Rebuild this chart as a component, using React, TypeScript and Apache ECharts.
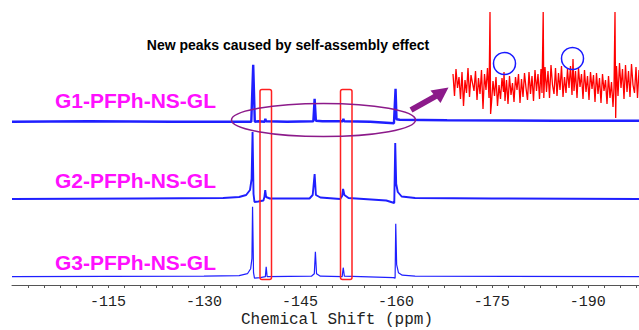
import React, { useEffect, useRef } from "react";
import * as echarts from "echarts";

// x-axis tick labels (ppm)
const tickLabels = [-115, -130, -145, -160, -175, -190];

// Spectra: [chemical shift (ppm), intensity above own baseline]
const g1Trace: [number, number][] = [
  [-100, 0], [-112, 0.5], [-125, 0], [-137.4, 0], [-137.7, 57], [-137.95, 0], [-138.5, 0.5],
  [-139.5, 0], [-139.6, 3], [-139.7, 0.5], [-143, 0], [-147.1, 0.5], [-147.3, 23], [-147.5, 1],
  [-148.5, 0.5], [-151.7, 0.5], [-151.8, 3], [-151.9, 0.5], [-156, 0], [-159.7, -1.5],
  [-159.95, 33], [-160.1, 2.5], [-160.6, 2], [-168, 1.5], [-185, 1], [-198, 1],
];
const g2Trace: [number, number][] = [
  [-100, 0], [-120, 0.5], [-133, 1], [-135.5, 2], [-136.6, 4], [-137.2, 9], [-137.45, 20],
  [-137.6, 67], [-137.75, 5], [-137.9, -3], [-138.5, -2.5], [-139.3, -1.5], [-139.45, 2],
  [-139.58, 9], [-139.72, 2], [-140.3, 0.5], [-146.5, 0.5], [-147.0, 4], [-147.3, 25],
  [-147.5, 4], [-148.2, 1.5], [-151.3, 0], [-151.6, 3], [-151.75, 10], [-151.95, 4],
  [-152.6, 1], [-158.5, -1.5], [-159.75, -4], [-159.9, 56], [-160.05, 15], [-160.3, 7],
  [-160.9, 2.5], [-163, 1], [-175, 0.5], [-198, 0],
];
const g3Trace: [number, number][] = [
  [-100, 0], [-130, 0.5], [-135.5, 1], [-136.8, 3], [-137.3, 8], [-137.5, 18], [-137.6, 70],
  [-137.75, 4], [-137.9, -1.5], [-138.8, -1], [-139.6, 0], [-139.73, 10], [-139.88, 0],
  [-146.8, 0.5], [-147.25, 3], [-147.42, 25], [-147.6, 3], [-148.2, 0.5], [-151.6, 0],
  [-151.77, 9], [-151.95, 0.5], [-159.6, -1], [-159.88, -1.5], [-159.98, 53], [-160.12, 12],
  [-160.4, 4], [-161, 1.5], [-163, 0.5], [-198, 0],
];

// Zoomed inset (G1 close-up, noisy): [position within inset, intensity]
const insetTrace: [number, number][] = [
  [0, 44], [1.5, 22], [3, 49], [4.5, 30], [6, 41], [7.5, 19], [9, 46], [10.5, 12], [12, 38],
  [13.5, 25], [15, 50], [16.5, 21], [18, 43], [19.5, 35], [21, 27], [22.5, 47], [24, 18],
  [25.5, 40], [27, 24], [28.5, 48], [30, 9], [31.5, 44], [33, 28], [34.5, 50], [36, 20],
  [37, 106], [37.6, 4],
  [38.5, 15], [40, 37], [41.5, 22], [43, 41], [44.5, 12], [46, 33], [47.5, 19], [49, 40],
  [50.5, 26], [51, 46], [52, 17], [53.5, 38], [55, 14], [56.5, 42], [58, 23], [59.5, 35],
  [61, 16], [62.5, 41], [64, 28], [65.5, 44], [67, 15], [68.5, 39], [70, 21], [71.5, 45],
  [73, 30], [74.5, 18], [76, 46], [77.5, 24], [79, 42], [80.5, 17], [82, 48], [83.5, 27],
  [85, 44], [86.5, 19], [88, 49], [89, 25],
  [90.2, 106], [90.8, 20],
  [92, 51], [93.5, 26], [95, 47], [96.5, 20], [98, 53], [99.5, 33], [101, 24], [102.5, 50],
  [104, 22], [105.5, 45], [107, 28], [108.5, 52], [110, 21], [111.5, 41], [113, 25],
  [114.5, 49], [116, 30], [117.5, 52], [119, 23], [120, 59], [121, 27], [122.5, 47], [124, 20],
  [125.5, 50], [127, 31], [128.5, 44], [130, 19], [131.5, 48], [133, 26], [134.5, 42],
  [136, 18], [137.5, 46], [139, 29], [140.5, 43], [142, 16], [143.5, 45], [145, 24],
  [146.5, 40], [148, 15], [149.5, 44], [151, 27], [152.5, 38], [154, 14], [155.5, 42],
  [157, 20], [158.5, 36], [160, 11], [161, 30],
  [162, 106], [162.7, 0],
  [163.5, 52], [165, 22], [166.5, 55], [168, 30], [169.5, 49], [171, 19], [172.5, 53],
  [174, 26], [175.5, 47], [177, 21], [178.5, 54], [180, 33], [181.5, 25], [183, 51],
  [184.5, 20], [186, 48],
];

const traceNames = ["G1-PFPh-NS-GL", "G2-PFPh-NS-GL", "G3-PFPh-NS-GL"];

export default function App() {
  const ref = useRef<HTMLDivElement>(null);
  useEffect(() => {
    if (!ref.current) return;
    const chart = echarts.init(ref.current, undefined, { renderer: "svg" });

    const minorTicks: number[] = [];
    for (let v = -102.5; v >= -197.5; v -= 2.5) minorTicks.push(v);

    const offsets = [163.3, 86, 8.3];
    const widths = [2.4, 1.9, 1.2];
    const traces = [g1Trace, g2Trace, g3Trace];
    const blue = "#1f1fff";
    const purple = "#8c1a8a";
    const magenta = "#ff10ff";

    const series: any[] = traces.map((t, i) => ({
      type: "line",
      name: traceNames[i],
      xAxisIndex: 0,
      yAxisIndex: 0,
      data: t.map(([x, v]) => [x, v + offsets[i]]),
      showSymbol: false,
      lineStyle: { color: blue, width: widths[i] },
      z: 2,
    }));
    series.push({
      type: "line",
      name: "inset",
      xAxisIndex: 1,
      yAxisIndex: 1,
      data: insetTrace,
      showSymbol: false,
      lineStyle: { color: "#ff0000", width: 1.3 },
      z: 3,
    });

    const labelFont = "Liberation Mono, DejaVu Sans Mono, monospace";
    const boldSans = "Liberation Sans, Arial, sans-serif";

    chart.setOption({
      animation: false,
      backgroundColor: "#ffffff",
      grid: [
        { left: 12, right: 0, top: 0, bottom: 45, outerBoundsMode: "none" },
        { left: 453, right: 0, top: 10, bottom: 212, outerBoundsMode: "none" },
      ],
      xAxis: [
        {
          type: "value",
          gridIndex: 0,
          min: -198,
          max: -100,
          inverse: true,
          splitLine: { show: false },
          axisLine: { show: true, onZero: false, lineStyle: { color: "#555", width: 1 } },
          axisTick: { show: true, length: 3, customValues: minorTicks, lineStyle: { color: "#555" } },
          axisLabel: {
            show: true,
            customValues: tickLabels,
            margin: 10,
            color: "#222",
            fontSize: 15,
            fontFamily: labelFont,
          },
        },
        {
          type: "value",
          gridIndex: 1,
          min: 0,
          max: 186,
          show: false,
        },
      ],
      yAxis: [
        { type: "value", gridIndex: 0, min: 0, max: 285, show: false },
        { type: "value", gridIndex: 1, min: 0, max: 108, show: false },
      ],
      series,
      graphic: [
        {
          type: "text",
          x: 337,
          y: 320,
          z: 100,
          style: {
            text: "Chemical Shift (ppm)",
            font: `16px ${labelFont}`,
            fill: "#222",
            textAlign: "center",
            textVerticalAlign: "middle",
          },
        },
        {
          type: "text",
          x: 288,
          y: 45,
          z: 100,
          style: {
            text: "New peaks caused by self-assembly effect",
            font: `bold 14px ${boldSans}`,
            fill: "#000",
            textAlign: "center",
            textVerticalAlign: "middle",
          },
        },
        ...traceNames.map((n, i) => ({
          type: "text",
          x: 55,
          y: [100, 180, 262][i],
          z: 100,
          style: {
            text: n,
            font: `bold 21px ${boldSans}`,
            fill: magenta,
            textAlign: "left",
            textVerticalAlign: "middle",
          },
        })),
        {
          type: "rect",
          z: 100,
          shape: { x: 260, y: 89.5, width: 11.5, height: 190, r: 2 },
          style: { fill: "none", stroke: "#ff2020", lineWidth: 1.5 },
        },
        {
          type: "rect",
          z: 100,
          shape: { x: 340.5, y: 89.5, width: 11.5, height: 190, r: 2 },
          style: { fill: "none", stroke: "#ff2020", lineWidth: 1.5 },
        },
        {
          type: "ellipse",
          z: 100,
          shape: { cx: 323.5, cy: 120, rx: 92, ry: 16.5 },
          style: { fill: "none", stroke: purple, lineWidth: 1.5 },
        },
        {
          type: "line",
          z: 100,
          shape: { x1: 411, y1: 110, x2: 436, y2: 96 },
          style: { stroke: purple, lineWidth: 6 },
        },
        {
          type: "polygon",
          z: 100,
          shape: { points: [[448.5, 87.5], [430.5, 90.5], [440.5, 103]] },
          style: { fill: purple },
        },
        {
          type: "circle",
          z: 100,
          shape: { cx: 504.5, cy: 63.5, r: 11 },
          style: { fill: "none", stroke: "#1a1aff", lineWidth: 1.5 },
        },
        {
          type: "circle",
          z: 100,
          shape: { cx: 572.5, cy: 58.5, r: 11 },
          style: { fill: "none", stroke: "#1a1aff", lineWidth: 1.5 },
        },
      ],
    });
    return () => chart.dispose();
  }, []);
  return (
    <div
      ref={ref}
      style={{ position: "fixed", left: 0, top: 0, width: 639, height: 330, background: "#fff" }}
    />
  );
}
